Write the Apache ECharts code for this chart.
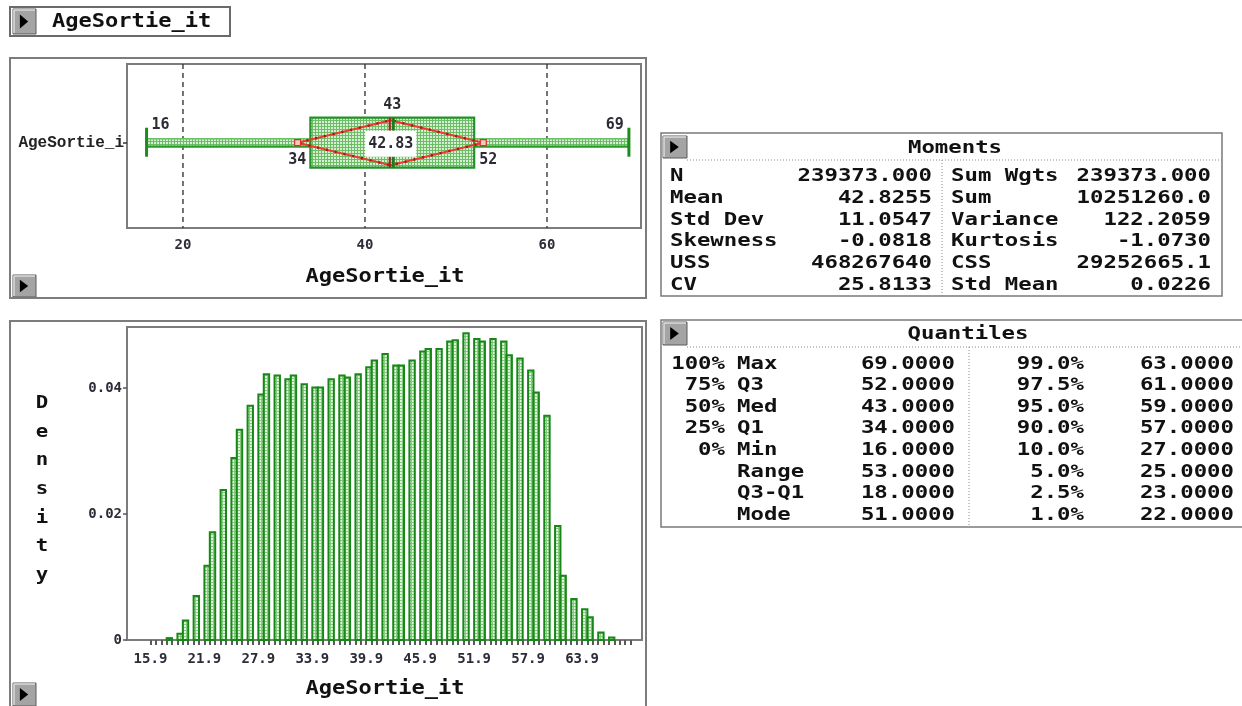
<!DOCTYPE html>
<html>
<head>
<meta charset="utf-8">
<script src="https://cdn.jsdelivr.net/npm/echarts@6/dist/echarts.min.js"></script>
<style>
  html, body { margin: 0; padding: 0; background: #fff; }
  #chart { width: 1242px; height: 706px; }
</style>
</head>
<body>
<div id="chart"></div>
<script>
// ---- variable ----
const variableName = 'AgeSortie_it';
const rowLabel = 'AgeSortie_i';

// ---- histogram: one bar per integer age, density scale ----
const ages = [16, 17, 18, 19, 20, 21, 22, 23, 24, 25, 26, 27, 28, 29, 30, 31, 32, 33, 34, 35,
  36, 37, 38, 39, 40, 41, 42, 43, 44, 45, 46, 47, 48, 49, 50, 51, 52, 53, 54, 55,
  56, 57, 58, 59, 60, 61, 62, 63, 64, 65, 66, 67, 68, 69];
const densities = [0, 0, 0.0003, 0.0010, 0.0031, 0.0070, 0.0118, 0.0171, 0.0238, 0.0289,
  0.0334, 0.0372, 0.0390, 0.0422, 0.0420, 0.0414, 0.0420, 0.0406, 0.0401, 0.0401,
  0.0414, 0.0420, 0.0417, 0.0422, 0.0433, 0.0444, 0.0454, 0.0436, 0.0436, 0.0444,
  0.0458, 0.0462, 0.0462, 0.0474, 0.0476, 0.0487, 0.0478, 0.0474, 0.0478, 0.0474,
  0.0452, 0.0447, 0.0428, 0.0393, 0.0356, 0.0181, 0.0102, 0.0065, 0.0049, 0.0036,
  0.0012, 0.0004, 0, 0];
const binStart = 15.9;
const binWidth = 0.6;
const binCount = 90;
const histLabelValues = [15.9, 21.9, 27.9, 33.9, 39.9, 45.9, 51.9, 57.9, 63.9];
const densityTicks = [0, 0.02, 0.04];

// ---- box plot ----
const boxFiveNumbers = [16, 34, 43, 52, 69];   // min, Q1, median, Q3, max
const boxMean = 42.83;
const meanDiamond = [32.6, 53.0];
const boxGridValues = [20, 40, 60];

// ---- Moments table ----
const momentsLeft = [['N', '239373.000'], ['Mean', '42.8255'], ['Std Dev', '11.0547'],
  ['Skewness', '-0.0818'], ['USS', '468267640'], ['CV', '25.8133']];
const momentsRight = [['Sum Wgts', '239373.000'], ['Sum', '10251260.0'], ['Variance', '122.2059'],
  ['Kurtosis', '-1.0730'], ['CSS', '29252665.1'], ['Std Mean', '0.0226']];

// ---- Quantiles table ----
const quantileLeft = [['100%', 'Max', '69.0000'], ['75%', 'Q3', '52.0000'], ['50%', 'Med', '43.0000'],
  ['25%', 'Q1', '34.0000'], ['0%', 'Min', '16.0000'], ['', 'Range', '53.0000'],
  ['', 'Q3-Q1', '18.0000'], ['', 'Mode', '51.0000']];
const quantileRight = [['99.0%', '63.0000'], ['97.5%', '61.0000'], ['95.0%', '59.0000'],
  ['90.0%', '57.0000'], ['10.0%', '27.0000'], ['5.0%', '25.0000'], ['2.5%', '23.0000'],
  ['1.0%', '22.0000']];

// ---------------------------------------------------------------
const MONO = '"DejaVu Sans Mono", monospace';
const INK = '#111';
const FRAME = '#7c7c7c';
const GREEN = '#23922a';

function makePattern(bg, line) {
  const c = document.createElement('canvas');
  c.width = 3; c.height = 3;
  const g = c.getContext('2d');
  g.fillStyle = bg; g.fillRect(0, 0, 3, 3);
  g.fillStyle = line; g.fillRect(0, 0, 3, 1); g.fillRect(0, 0, 1, 3);
  return { image: c, repeat: 'repeat' };
}
const boxFill = makePattern('#d6eed2', '#6dbd67');
const barFill = makePattern('#e2f3df', '#86cb80');

// wide monospace text, stretched horizontally like the terminal font
function txt(x, y, text, o) {
  o = o || {};
  return {
    type: 'text', x: x, y: y, scaleX: o.sx || 1.24, z: 20, silent: true,
    style: {
      text: text, fontFamily: o.family || MONO, fontSize: o.size || 18,
      fontWeight: o.weight || 'bold', fill: o.color || INK,
      align: o.align || 'left', verticalAlign: 'middle'
    }
  };
}
function button(x, y, w, h) {
  return {
    type: 'group', x: x, y: y, z: 20, silent: true,
    children: [
      { type: 'rect', shape: { x: 0, y: 0, width: w, height: h }, style: { fill: '#a4a4a4', stroke: '#5a5a5a', lineWidth: 1 } },
      { type: 'polyline', shape: { points: [[1, h - 1], [1, 1], [w - 1, 1]] }, style: { stroke: '#dcdcdc', lineWidth: 1.5, fill: null } },
      { type: 'polygon', shape: { points: [[w * 0.3, h * 0.22], [w * 0.3, h * 0.78], [w * 0.66, h * 0.5]] }, style: { fill: '#000' } }
    ]
  };
}
function rect(x, y, w, h, stroke, lw) {
  return { type: 'rect', z: 15, silent: true, shape: { x: x, y: y, width: w, height: h },
    style: { fill: 'none', stroke: stroke || FRAME, lineWidth: lw || 2 } };
}
function dotted(x1, y1, x2, y2) {
  return { type: 'line', z: 15, silent: true, shape: { x1: x1, y1: y1, x2: x2, y2: y2 },
    style: { stroke: '#8a8a8a', lineWidth: 1, lineDash: [1, 2] } };
}

// ---- graphic: panels, buttons, titles and tables ----
const graphics = [];
// title button
graphics.push(rect(10, 7, 220, 29, '#6a6a6a', 2));
graphics.push(button(13, 9, 23, 25));
graphics.push(txt(52, 22, variableName, { size: 19, sx: 1.16 }));
// box plot panel
graphics.push(rect(10, 58, 636, 240, FRAME, 2));
graphics.push(button(13, 275, 23, 22));
graphics.push(txt(385, 277, variableName, { size: 19, sx: 1.16, align: 'center' }));
// histogram panel
graphics.push(rect(10, 321, 636, 400, FRAME, 2));
graphics.push(button(13, 683, 23, 23));
graphics.push(txt(385, 689, variableName, { size: 19, sx: 1.16, align: 'center' }));
const densityWord = 'Density';
for (let i = 0; i < densityWord.length; i++) {
  graphics.push(txt(42, 403.5 + i * 28.6, densityWord[i], { size: 18, sx: 1.15, align: 'center' }));
}

// Moments table
graphics.push(rect(661, 133, 561, 163, '#7a7a7a', 1.5));
graphics.push(button(663, 136, 24, 22));
graphics.push(dotted(687, 160, 1222, 160));
graphics.push(dotted(942, 160, 942, 296));
graphics.push(txt(955, 148, 'Moments', { align: 'center' }));
momentsLeft.forEach(function (r, i) {
  const y = 176.5 + i * 21.7;
  graphics.push(txt(670, y, r[0]));
  graphics.push(txt(932, y, r[1], { align: 'right' }));
});
momentsRight.forEach(function (r, i) {
  const y = 176.5 + i * 21.7;
  graphics.push(txt(951, y, r[0]));
  graphics.push(txt(1211, y, r[1], { align: 'right' }));
});

// Quantiles table
graphics.push(rect(661, 320, 600, 207, '#7a7a7a', 1.5));
graphics.push(button(663, 322, 24, 23));
graphics.push(dotted(687, 347, 1242, 347));
graphics.push(dotted(969, 347, 969, 527));
graphics.push(txt(968, 334, 'Quantiles', { align: 'center' }));
quantileLeft.forEach(function (r, i) {
  const y = 364 + i * 21.6;
  if (r[0]) graphics.push(txt(725, y, r[0], { align: 'right' }));
  graphics.push(txt(737, y, r[1]));
  graphics.push(txt(955, y, r[2], { align: 'right' }));
});
quantileRight.forEach(function (r, i) {
  const y = 364 + i * 21.6;
  graphics.push(txt(1084, y, r[0], { align: 'right' }));
  graphics.push(txt(1234, y, r[1], { align: 'right' }));
});

// ---- histogram bins ----
const histBins = ages.map(function (a, i) {
  const k = Math.floor((a - binStart) / binWidth + 1e-9);
  const x0 = binStart + k * binWidth;
  return [x0, x0 + binWidth, densities[i]];
});
const binEdges = [];
for (let k = 0; k < binCount; k++) binEdges.push(+(binStart + k * binWidth).toFixed(2));

// ---- box plot row position (inside the box plot frame) ----
const boxRow = 0.52;

function renderGridLine(params, api) {
  const v = api.value(0);
  const top = api.coord([v, 1]);
  const bot = api.coord([v, 0]);
  return { type: 'line', shape: { x1: top[0], y1: top[1], x2: bot[0], y2: bot[1] },
    style: { stroke: '#3a3a3a', lineWidth: 1.4, lineDash: [5, 4] } };
}

function renderBox(params, api) {
  const X = function (v) { return api.coord([v, boxRow])[0]; };
  const cy = api.coord([0, boxRow])[1];
  const mn = api.value(0), q1 = api.value(1), med = api.value(2), q3 = api.value(3), mx = api.value(4);
  const mean = api.value(5), dLo = api.value(6), dHi = api.value(7);
  const lab = { fontFamily: MONO, fontSize: 15, fontWeight: 'bold', fill: '#2b2b33', verticalAlign: 'middle' };
  const children = [];
  // whiskers (thin hatched bands)
  [[mn, q1], [q3, mx]].forEach(function (w) {
    children.push({ type: 'rect', shape: { x: X(w[0]), y: cy - 4, width: X(w[1]) - X(w[0]), height: 8 },
      style: { fill: boxFill } });
    children.push({ type: 'line', shape: { x1: X(w[0]), y1: cy - 4, x2: X(w[1]), y2: cy - 4 },
      style: { stroke: '#6cc066', lineWidth: 1.6 } });
    children.push({ type: 'line', shape: { x1: X(w[0]), y1: cy + 4, x2: X(w[1]), y2: cy + 4 },
      style: { stroke: '#2a9c2a', lineWidth: 2.2 } });
  });
  // caps
  [mn, mx].forEach(function (v) {
    children.push({ type: 'line', shape: { x1: X(v), y1: cy - 15, x2: X(v), y2: cy + 14 },
      style: { stroke: '#1d8c1d', lineWidth: 3 } });
  });
  // box
  children.push({ type: 'rect', shape: { x: X(q1), y: cy - 25, width: X(q3) - X(q1), height: 50 },
    style: { fill: boxFill, stroke: GREEN, lineWidth: 2.2 } });
  // mean diamond
  const dia = [[X(dLo), cy], [X(mean), cy - 22.5], [X(dHi), cy], [X(mean), cy + 22.5]];
  children.push({ type: 'polygon', shape: { points: dia }, style: { fill: null, stroke: '#ee3a2e', lineWidth: 2 } });
  children.push({ type: 'polygon', shape: { points: dia }, style: { fill: null, stroke: '#9e1a14', lineWidth: 2.4, lineDash: [2, 7] } });
  [dLo, dHi].forEach(function (v) {
    children.push({ type: 'rect', shape: { x: X(v) - 3, y: cy - 3, width: 6, height: 6 },
      style: { fill: '#f6c9c0', stroke: '#d8342a', lineWidth: 1.2 } });
  });
  // median and mean ticks
  children.push({ type: 'line', shape: { x1: X(med) + 1, y1: cy - 25, x2: X(med) + 1, y2: cy - 12 }, style: { stroke: '#1d7a1d', lineWidth: 3 } });
  children.push({ type: 'line', shape: { x1: X(med) + 1, y1: cy + 12, x2: X(med) + 1, y2: cy + 25 }, style: { stroke: '#1d7a1d', lineWidth: 3 } });
  children.push({ type: 'line', shape: { x1: X(mean) - 1, y1: cy - 25, x2: X(mean) - 1, y2: cy - 12 }, style: { stroke: '#b01a14', lineWidth: 2 } });
  children.push({ type: 'line', shape: { x1: X(mean) - 1, y1: cy + 12, x2: X(mean) - 1, y2: cy + 25 }, style: { stroke: '#b01a14', lineWidth: 2 } });
  // value labels
  children.push({ type: 'text', style: Object.assign({}, lab, { text: String(med), x: X(med), y: cy - 38, align: 'center' }) });
  children.push({ type: 'text', style: Object.assign({}, lab, { text: String(mn), x: X(mn) + 5, y: cy - 18, align: 'left' }) });
  children.push({ type: 'text', style: Object.assign({}, lab, { text: String(mx), x: X(mx) - 5, y: cy - 18, align: 'right' }) });
  children.push({ type: 'text', style: Object.assign({}, lab, { text: String(q1), x: X(q1) - 2, y: cy + 17, align: 'right',
    backgroundColor: '#fff', padding: [2, 2, 1, 2] }) });
  children.push({ type: 'text', style: Object.assign({}, lab, { text: String(q3), x: X(q3) + 3, y: cy + 17, align: 'left',
    backgroundColor: '#fff', padding: [2, 2, 1, 2] }) });
  children.push({ type: 'text', style: Object.assign({}, lab, { text: mean.toFixed(2), x: X(mean), y: cy + 1, align: 'center',
    backgroundColor: '#fff', padding: [6, 3, 5, 3] }) });
  return { type: 'group', children: children };
}

function renderBin(params, api) {
  const d = api.value(2);
  if (!(d > 0)) return null;
  const p0 = api.coord([api.value(0), d]);
  const p1 = api.coord([api.value(1), 0]);
  return { type: 'rect', shape: { x: p0[0], y: p0[1], width: p1[0] - p0[0], height: p1[1] - p0[1] },
    style: { fill: barFill, stroke: '#178817', lineWidth: 2 } };
}

const tickFont = { fontFamily: MONO, fontSize: 14, fontWeight: 'bold', color: '#2d2d38' };

const option = {
  animation: false,
  backgroundColor: '#fff',
  graphic: graphics,
  grid: [
    { left: 127, top: 64, width: 514, height: 164, show: true, borderColor: FRAME, borderWidth: 2, backgroundColor: '#fff' },
    { left: 127, top: 327, width: 515, height: 313, show: true, borderColor: FRAME, borderWidth: 2, backgroundColor: '#fff' }
  ],
  xAxis: [
    {
      type: 'value', gridIndex: 0, min: 13.85, max: 70.33,
      axisLine: { show: false }, axisTick: { show: false }, splitLine: { show: false },
      axisLabel: Object.assign({ customValues: boxGridValues, margin: 10 }, tickFont)
    },
    {
      type: 'value', gridIndex: 1, min: 13.29, max: 70.57,
      axisLine: { show: false }, splitLine: { show: false },
      axisTick: { show: true, customValues: binEdges, length: 5, lineStyle: { color: '#5a5a5a', width: 2 } },
      axisLabel: Object.assign({ customValues: histLabelValues, margin: 12,
        formatter: function (v) { return v.toFixed(1); } }, tickFont)
    }
  ],
  yAxis: [
    {
      type: 'value', gridIndex: 0, min: 0, max: 1,
      axisLine: { show: false }, splitLine: { show: false },
      axisTick: { show: true, customValues: [boxRow], length: 4, lineStyle: { color: '#333', width: 1.5 } },
      axisLabel: { customValues: [boxRow], margin: 3, formatter: function () { return rowLabel; },
        fontFamily: '"Liberation Mono", monospace', fontSize: 16, fontWeight: 'bold', color: '#222' }
    },
    {
      type: 'value', gridIndex: 1, min: 0, max: 0.0497,
      axisLine: { show: false }, splitLine: { show: false },
      axisTick: { show: true, customValues: densityTicks, length: 4, lineStyle: { color: '#555', width: 1.5 } },
      axisLabel: Object.assign({ customValues: densityTicks, margin: 5 }, tickFont)
    }
  ],
  series: [
    { type: 'custom', name: 'grid', xAxisIndex: 0, yAxisIndex: 0, z: 1, silent: true,
      data: boxGridValues.map(function (v) { return [v, 0]; }), renderItem: renderGridLine },
    { type: 'custom', name: 'box', xAxisIndex: 0, yAxisIndex: 0, z: 3, silent: true,
      data: [[...boxFiveNumbers, boxMean, ...meanDiamond]], renderItem: renderBox },
    { type: 'custom', name: 'density', xAxisIndex: 1, yAxisIndex: 1, z: 3, silent: true,
      encode: { x: [0, 1], y: 2 }, data: histBins, renderItem: renderBin }
  ]
};

const chart = echarts.init(document.getElementById('chart'), null, { renderer: 'canvas' });
chart.setOption(option);
</script>
</body>
</html>
